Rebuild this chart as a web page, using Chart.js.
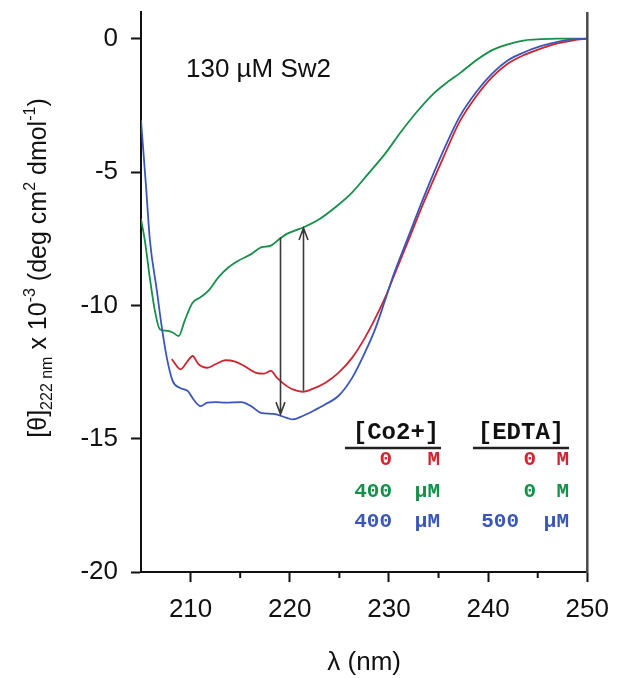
<!DOCTYPE html>
<html>
<head>
<meta charset="utf-8">
<script src="https://cdn.jsdelivr.net/npm/chart.js@4.4.1/dist/chart.umd.min.js"></script>
<style>
  html, body { margin: 0; padding: 0; background: #fff; }
  #wrap { width: 621px; height: 678px; }
</style>
</head>
<body>
<div id="wrap"><canvas id="cd" width="621" height="678"></canvas></div>
<script>
Chart.defaults.font.family = "'Liberation Sans', Arial, sans-serif";
Chart.defaults.color = "#111";

// green: 400 uM Co2+, no EDTA
const wlGreen = [205.0, 205.4, 205.9, 206.4, 206.9, 207.5, 208.2, 208.8, 209.4, 210.2, 211.0, 211.8,
  212.8, 213.8, 214.8, 216.1, 217.1, 218.1, 219.0, 219.7, 220.5, 221.4, 223.0, 224.6, 226.3, 227.9,
  229.6, 231.2, 232.8, 234.5, 236.0, 237.1, 238.8, 240.4, 242.0, 243.7, 245.3, 247.0, 250.0];
const thetaGreen = [-6.76, -7.6, -9.0, -10.2, -10.9, -10.95, -11.02, -11.15, -10.58, -9.9, -9.7, -9.45,
  -8.95, -8.58, -8.33, -8.08, -7.83, -7.76, -7.5, -7.32, -7.2, -7.07, -6.76, -6.32, -5.76, -5.07,
  -4.32, -3.5, -2.75, -2.06, -1.6, -1.31, -0.81, -0.43, -0.21, -0.06, -0.02, 0, 0];

// red: no Co2+, no EDTA
const wlRed = [208.1, 209.0, 209.7, 210.2, 210.8, 211.7, 212.5, 213.5, 214.5, 215.4, 216.6, 217.4,
  218.1, 218.7, 219.7, 220.3, 221.3, 222.3, 223.6, 224.9, 226.3, 227.6, 228.6, 229.6, 230.5, 231.9,
  233.5, 235.5, 237.1, 238.8, 240.4, 242.0, 243.7, 245.3, 247.0, 248.6, 250.0];
const thetaRed = [-12.02, -12.4, -12.09, -11.9, -12.21, -12.34, -12.21, -12.06, -12.11, -12.27, -12.53, -12.56,
  -12.46, -12.71, -13.03, -13.15, -13.24, -13.13, -12.9, -12.53, -11.96, -11.2, -10.5, -9.72, -8.9, -7.62,
  -6.15, -4.44, -3.13, -2.16, -1.44, -0.93, -0.6, -0.37, -0.18, -0.06, 0];

// blue: 400 uM Co2+, 500 uM EDTA
const wlBlue = [205.0, 205.5, 205.9, 206.6, 207.1, 207.6, 208.2, 208.9, 209.7, 210.3, 211.0, 211.7,
  212.5, 213.5, 215.1, 216.1, 217.1, 218.4, 219.7, 220.3, 221.3, 222.3, 223.6, 224.9, 226.3, 227.6,
  228.6, 229.6, 230.5, 231.9, 233.5, 235.5, 237.1, 238.8, 240.4, 242.0, 243.7, 245.3, 247.0, 248.6, 250.0];
const thetaBlue = [-3.06, -5.5, -7.57, -9.45, -10.83, -11.96, -12.84, -13.09, -13.21, -13.53, -13.78, -13.65,
  -13.63, -13.65, -13.63, -13.78, -14.03, -14.07, -14.22, -14.28, -14.15, -13.97, -13.71, -13.4, -12.71, -11.75,
  -10.9, -9.82, -8.82, -7.48, -5.95, -4.19, -2.94, -2.0, -1.31, -0.81, -0.5, -0.28, -0.12, -0.02, 0];

const xTicks = [210, 220, 230, 240, 250];
const xMinorTicks = [215, 225, 235, 245];
const yTicks = [-20, -15, -10, -5, 0];

// arrows: wavelength, start value, end value (head at end)
const arrowWl = [219.05, 221.35];
const arrowFrom = [-7.45, -13.2];
const arrowTo = [-14.08, -7.1];

// legend table
const coVal = ["0", "400", "400"];
const coUnit = ["M", "\u00b5M", "\u00b5M"];
const edtaVal = ["0", "0", "500"];
const edtaUnit = ["M", "M", "\u00b5M"];

const red = "#cf2530";
const green = "#149049";
const blue = "#3a56bb";
const rowColors = [red, green, blue];

function toXY(xs, ys) {
  return xs.map((v, i) => ({ x: v, y: ys[i] }));
}

const yTitle = [
  { t: "[\u03b8]", s: 0 },
  { t: "222 nm", s: -1 },
  { t: " x 10", s: 0 },
  { t: "-3", s: 1 },
  { t: " (deg cm", s: 0 },
  { t: "2", s: 1 },
  { t: " dmol", s: 0 },
  { t: "-1", s: 1 },
  { t: ")", s: 0 },
];

const decor = {
  id: "decor",
  afterDraw(chart) {
    const { ctx, chartArea: a, scales: { x, y } } = chart;
    ctx.save();

    // right frame line
    ctx.strokeStyle = "#4a4a4a";
    ctx.lineWidth = 2.5;
    ctx.beginPath();
    ctx.moveTo(a.right, a.top);
    ctx.lineTo(a.right, a.bottom + 1);
    ctx.stroke();

    // minor x ticks
    ctx.strokeStyle = "#111";
    ctx.lineWidth = 2;
    xMinorTicks.forEach((v) => {
      const px = x.getPixelForValue(v);
      ctx.beginPath();
      ctx.moveTo(px, a.bottom);
      ctx.lineTo(px, a.bottom + 6);
      ctx.stroke();
    });

    // arrows
    ctx.strokeStyle = "#3a3a3a";
    ctx.lineWidth = 1.6;
    arrowWl.forEach((w, i) => {
      const px = Math.round(x.getPixelForValue(w)) + 0.5;
      const y0 = y.getPixelForValue(arrowFrom[i]);
      const y1 = y.getPixelForValue(arrowTo[i]);
      const dir = Math.sign(y1 - y0);
      ctx.beginPath();
      ctx.moveTo(px, y0);
      ctx.lineTo(px, y1);
      ctx.moveTo(px - 4.5, y1 - dir * 12);
      ctx.lineTo(px, y1);
      ctx.lineTo(px + 4.5, y1 - dir * 12);
      ctx.stroke();
    });

    // sample label
    ctx.fillStyle = "#111";
    ctx.font = "26px 'Liberation Sans', Arial, sans-serif";
    ctx.textAlign = "left";
    ctx.textBaseline = "alphabetic";
    ctx.fillText("130 \u00b5M Sw2", 186, 77);

    // y axis title with sub/superscripts
    ctx.save();
    ctx.translate(46, 268);
    ctx.rotate(-Math.PI / 2);
    const big = "25px 'Liberation Sans', Arial, sans-serif";
    const small = "16px 'Liberation Sans', Arial, sans-serif";
    let total = 0;
    yTitle.forEach((p) => {
      ctx.font = p.s ? small : big;
      total += ctx.measureText(p.t).width;
    });
    let cx = -total / 2;
    yTitle.forEach((p) => {
      ctx.font = p.s ? small : big;
      const off = p.s === -1 ? 6 : p.s === 1 ? -11 : 0;
      ctx.fillText(p.t, cx, off);
      cx += ctx.measureText(p.t).width;
    });
    ctx.restore();

    // legend table
    const head = "bold 24px 'Liberation Mono', 'DejaVu Sans Mono', monospace";
    const body = "bold 21px 'Liberation Mono', 'DejaVu Sans Mono', monospace";
    ctx.font = head;
    ctx.textAlign = "center";
    ctx.fillStyle = "#111";
    ctx.fillText("[Co2+]", 396, 439);
    ctx.fillText("[EDTA]", 521, 439);
    ctx.strokeStyle = "#222";
    ctx.lineWidth = 2.5;
    ctx.beginPath();
    ctx.moveTo(345, 448);
    ctx.lineTo(441, 448);
    ctx.moveTo(473, 448);
    ctx.lineTo(569, 448);
    ctx.stroke();

    const rowY = [465, 497, 527];
    ctx.font = body;
    ctx.textAlign = "right";
    rowY.forEach((ry, i) => {
      ctx.fillStyle = rowColors[i];
      ctx.fillText(coVal[i], 392, ry);
      ctx.fillText(coUnit[i], 440, ry);
      ctx.fillText(edtaVal[i], edtaVal[i].length > 1 ? 519 : 536, ry);
      ctx.fillText(edtaUnit[i], 569, ry);
    });

    ctx.restore();
  },
};

const lineStyle = {
  borderWidth: 1.8,
  pointRadius: 0,
  fill: false,
  cubicInterpolationMode: "monotone",
};

new Chart(document.getElementById("cd"), {
  type: "line",
  data: {
    datasets: [
      { label: "400 uM Co2+, 500 uM EDTA", data: toXY(wlBlue, thetaBlue), borderColor: blue, ...lineStyle },
      { label: "0 M Co2+, 0 M EDTA", data: toXY(wlRed, thetaRed), borderColor: red, ...lineStyle },
      { label: "400 uM Co2+, 0 M EDTA", data: toXY(wlGreen, thetaGreen), borderColor: green, ...lineStyle },
    ],
  },
  options: {
    responsive: false,
    animation: false,
    layout: { padding: { top: 12, right: 24, left: 0, bottom: 0 } },
    plugins: {
      legend: { display: false },
      tooltip: { enabled: false },
    },
    scales: {
      x: {
        type: "linear",
        min: 205,
        max: 250,
        afterBuildTicks: (s) => { s.ticks = xTicks.map((v) => ({ value: v })); },
        afterFit: (s) => { s.height = 106; },
        grid: { drawOnChartArea: false, tickLength: 10, tickWidth: 2, tickColor: "#111" },
        border: { color: "#111", width: 2 },
        ticks: { font: { size: 26 }, padding: 12, color: "#111", maxRotation: 0 },
        title: { display: true, text: "\u03bb (nm)", font: { size: 26 }, padding: 0, color: "#111" },
      },
      y: {
        min: -20,
        max: 1,
        afterBuildTicks: (s) => { s.ticks = yTicks.map((v) => ({ value: v })); },
        afterFit: (s) => { s.width = 141; s.paddingTop = 0; s.paddingBottom = 0; },
        grid: { drawOnChartArea: false, tickLength: 10, tickWidth: 2, tickColor: "#111" },
        border: { color: "#111", width: 2 },
        ticks: { font: { size: 26 }, padding: 13, color: "#111" },
      },
    },
  },
  plugins: [decor],
});
</script>
</body>
</html>
